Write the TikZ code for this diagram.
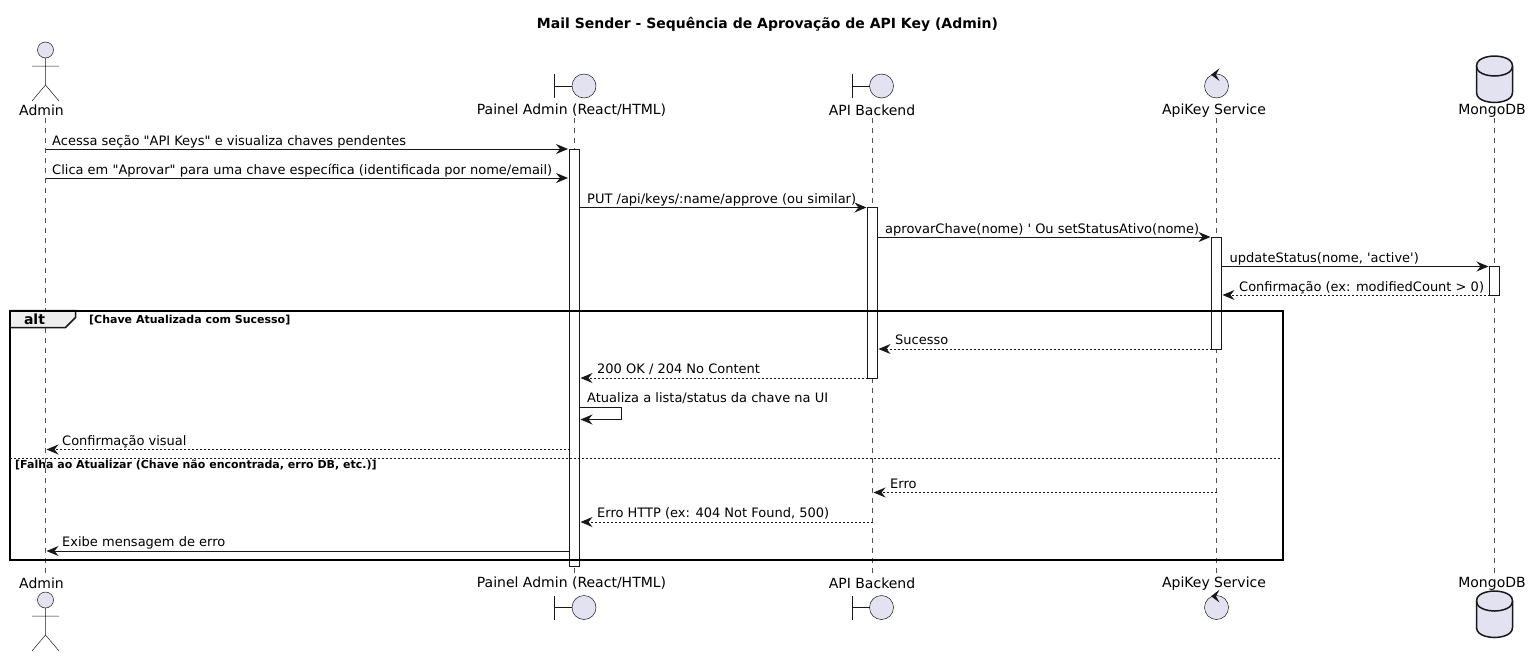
\documentclass[tikz,border=0pt]{standalone}
\usepackage{fontspec}
\setmainfont[Ligatures=TeXOff]{DejaVu Sans}
\usetikzlibrary{arrows.meta}
\definecolor{partfill}{HTML}{E2E2F0}
\definecolor{partline}{HTML}{181818}
\definecolor{tabfill}{HTML}{EEEEEE}
\tikzset{
  partlabel/.style={inner sep=0pt,font=\fontsize{14}{16}\selectfont,text=black},
  msglabel/.style={inner sep=0pt,anchor=base west,font=\fontsize{13}{15}\selectfont,text=black},
  guardlabel/.style={inner sep=0pt,anchor=base west,font=\fontsize{11}{13}\selectfont\bfseries,text=black},
  lifeline/.style={draw=partline!75,line width=.5pt,dash pattern=on 5pt off 5pt},
  actbox/.style={draw=partline,fill=white,line width=.9pt,rectangle,minimum width=10pt,inner sep=0pt},
  msg/.style={draw=partline,line width=1pt,-{Stealth[length=12pt,width=10pt,inset=4pt]}},
  reply/.style={msg,dash pattern=on 2pt off 2pt},
  icon/.style={draw=partline,line width=.5pt,fill=partfill},
  iconline/.style={draw=partline,line width=.5pt},
  dbline/.style={draw=partline,line width=1.5pt}
}
\begin{document}
\begin{tikzpicture}[x=1pt,y=-1pt]
  \useasboundingbox (0,0) rectangle (1531,656);
  \node (title) [inner sep=0pt,font=\fontsize{14}{16}\selectfont\bfseries] at (767.5,24.5) {Mail Sender - Sequência de Aprovação de API Key (Admin)};
  % lifelines
  \coordinate (adminT) at (45.5,118);
  \coordinate (adminB) at (45.5,575);
  \coordinate (painelT) at (574.5,118);
  \coordinate (painelB) at (574.5,575);
  \coordinate (apiT) at (872.5,118);
  \coordinate (apiB) at (872.5,575);
  \coordinate (keyT) at (1216.5,118);
  \coordinate (keyB) at (1216.5,575);
  \coordinate (mongoT) at (1494.5,118);
  \coordinate (mongoB) at (1494.5,575);
  \draw [lifeline] (adminT) -- (adminB);
  \draw [lifeline] (painelT) -- (painelB);
  \draw [lifeline] (apiT) -- (apiB);
  \draw [lifeline] (keyT) -- (keyB);
  \draw [lifeline] (mongoT) -- (mongoB);
  % labels of the participants
  \node (adminHead) [partlabel] at (41.5,110.5) {Admin};
  \node (painelHead) [partlabel] at (571.5,110.5) {Painel Admin (React/HTML)};
  \node (apiHead) [partlabel] at (872,110.5) {API Backend};
  \node (keyHead) [partlabel] at (1214,110.5) {ApiKey Service};
  \node (mongoHead) [partlabel] at (1492,110.5) {MongoDB};
  \node (adminFoot) [partlabel] at (41.5,583.5) {Admin};
  \node (painelFoot) [partlabel] at (571.5,583.5) {Painel Admin (React/HTML)};
  \node (apiFoot) [partlabel] at (872,583.5) {API Backend};
  \node (keyFoot) [partlabel] at (1214,583.5) {ApiKey Service};
  \node (mongoFoot) [partlabel] at (1492,583.5) {MongoDB};
  % actor, top and bottom
  \draw [icon] (45.5,50) circle (8);
  \draw [iconline] (45.5,58) -- (45.5,85) (32,66) -- (59,66) (32,101) -- (45.5,85) -- (59,101);
  \draw [icon] (45.5,600) circle (8);
  \draw [iconline] (45.5,608) -- (45.5,635) (32,616) -- (59,616) (32,651) -- (45.5,635) -- (59,651);
  % boundaries
  \draw [icon] (584,86) circle (12);
  \draw [iconline] (554.5,74) -- (554.5,98) (554.5,86) -- (572,86);
  \draw [icon] (584,607.5) circle (12);
  \draw [iconline] (554.5,595.5) -- (554.5,619.5) (554.5,607.5) -- (572,607.5);
  \draw [icon] (881.5,86) circle (12);
  \draw [iconline] (852,74) -- (852,98) (852,86) -- (869.5,86);
  \draw [icon] (881.5,607.5) circle (12);
  \draw [iconline] (852,595.5) -- (852,619.5) (852,607.5) -- (869.5,607.5);
  % controls
  \draw [icon] (1216.5,86) circle (12);
  \fill [partline] (1211,74.7) -- (1219.5,68.2) -- (1216,74.7) -- (1219.5,81) -- cycle;
  \draw [icon] (1216.5,607.5) circle (12);
  \fill [partline] (1211,596.2) -- (1219.5,589.7) -- (1216,596.2) -- (1219.5,602.5) -- cycle;
  % databases
  \draw [dbline,fill=partfill] (1476.5,66) .. controls (1476.5,56) and (1494.5,56) .. (1494.5,56) .. controls (1494.5,56) and (1512.5,56) .. (1512.5,66) -- (1512.5,92.5) .. controls (1512.5,102.5) and (1494.5,102.5) .. (1494.5,102.5) .. controls (1494.5,102.5) and (1476.5,102.5) .. (1476.5,92.5) -- cycle;
  \draw [dbline] (1476.5,66) .. controls (1476.5,76) and (1494.5,76) .. (1494.5,76) .. controls (1494.5,76) and (1512.5,76) .. (1512.5,66);
  \draw [dbline,fill=partfill] (1476.5,601) .. controls (1476.5,591) and (1494.5,591) .. (1494.5,591) .. controls (1494.5,591) and (1512.5,591) .. (1512.5,601) -- (1512.5,627.5) .. controls (1512.5,637.5) and (1494.5,637.5) .. (1494.5,637.5) .. controls (1494.5,637.5) and (1476.5,637.5) .. (1476.5,627.5) -- cycle;
  \draw [dbline] (1476.5,601) .. controls (1476.5,611) and (1494.5,611) .. (1494.5,611) .. controls (1494.5,611) and (1512.5,611) .. (1512.5,601);
  % activations
  \node (actPainel) [actbox,minimum height=417.5pt] at (574.5,357.75) {};
  \node (actApi) [actbox,minimum height=171pt] at (872.5,292.5) {};
  \node (actKey) [actbox,minimum height=112pt] at (1216.5,293) {};
  \node (actMongo) [actbox,minimum height=29pt] at (1494.5,280.5) {};
  % alt frame
  \coordinate (frameNW) at (10,310.5);
  \coordinate (frameSE) at (1282.5,559.5);
  \coordinate (dividerW) at (10,458.5);
  \coordinate (dividerE) at (1282.5,458.5);
  \draw [draw=partline,fill=tabfill,line width=1.5pt] (10,310.5) -- (75.5,310.5) -- (75.5,317.5) -- (65.5,327.5) -- (10,327.5) -- cycle;
  \draw [black,line width=2pt] (frameNW) rectangle (frameSE);
  \draw [partline,line width=1pt,dash pattern=on 2pt off 2pt] (dividerW) -- (dividerE);
  \node (altTag) [inner sep=0pt,font=\fontsize{14}{16}\selectfont\bfseries] at (34.5,319) {alt};
  \node (guardOk) [guardlabel] at (89,323) {[Chave Atualizada com Sucesso]};
  \node (guardFail) [guardlabel] at (15,468) {[Falha ao Atualizar (Chave não encontrada, erro DB, etc.)]};
  % messages
  \coordinate (m1s) at (45.5,149);
  \coordinate (m1e) at (568,149);
  \coordinate (m2s) at (45.5,178);
  \coordinate (m2e) at (568,178);
  \coordinate (m3s) at (579.5,207.5);
  \coordinate (m3e) at (866.5,207.5);
  \coordinate (m4s) at (877.5,237);
  \coordinate (m4e) at (1210.5,237);
  \coordinate (m5s) at (1221.5,266.5);
  \coordinate (m5e) at (1488.5,266.5);
  \coordinate (m6s) at (1489.5,295);
  \coordinate (m6e) at (1222.5,295);
  \coordinate (m7s) at (1211.5,349);
  \coordinate (m7e) at (878.5,349);
  \coordinate (m8s) at (867.5,378);
  \coordinate (m8e) at (580.5,378);
  \coordinate (m9s) at (579.5,407);
  \coordinate (m9a) at (621.5,407);
  \coordinate (m9b) at (621.5,419.5);
  \coordinate (m9e) at (580.5,419.5);
  \coordinate (m10s) at (569.5,449.5);
  \coordinate (m10e) at (46.5,449.5);
  \coordinate (m11s) at (1216.5,492.5);
  \coordinate (m11e) at (873.5,492.5);
  \coordinate (m12s) at (872.5,522);
  \coordinate (m12e) at (580.5,522);
  \coordinate (m13s) at (569.5,551);
  \coordinate (m13e) at (46.5,551);
  \draw [msg] (m1s) -- (m1e);
  \draw [msg] (m2s) -- (m2e);
  \draw [msg] (m3s) -- (m3e);
  \draw [msg] (m4s) -- (m4e);
  \draw [msg] (m5s) -- (m5e);
  \draw [reply] (m6s) -- (m6e);
  \draw [reply] (m7s) -- (m7e);
  \draw [reply] (m8s) -- (m8e);
  \draw [msg] (m9s) -- (m9a) -- (m9b) -- (m9e);
  \draw [reply] (m10s) -- (m10e);
  \draw [reply] (m11s) -- (m11e);
  \draw [reply] (m12s) -- (m12e);
  \draw [msg] (m13s) -- (m13e);
  \node (l1) [msglabel] at (52,145.5) {Acessa seção "API Keys" e visualiza chaves pendentes};
  \node (l2) [msglabel] at (52,174.5) {Clica em "Aprovar" para uma chave específica (identificada por nome/email)};
  \node (l3) [msglabel] at (587,203.5) {PUT /api/keys/:name/approve (ou similar)};
  \node (l4) [msglabel] at (885,233.5) {aprovarChave(nome) ' Ou setStatusAtivo(nome)};
  \node (l5) [msglabel] at (1229.5,262.5) {updateStatus(nome, 'active')};
  \node (l6) [msglabel] at (1239,291.5) {Confirmação (ex: modifiedCount > 0)};
  \node (l7) [msglabel] at (895,344.5) {Sucesso};
  \node (l8) [msglabel] at (597,373.5) {200 OK / 204 No Content};
  \node (l9) [msglabel] at (587,402.5) {Atualiza a lista/status da chave na UI};
  \node (l10) [msglabel] at (62,445.5) {Confirmação visual};
  \node (l11) [msglabel] at (890,488.5) {Erro};
  \node (l12) [msglabel] at (597,517.5) {Erro HTTP (ex: 404 Not Found, 500)};
  \node (l13) [msglabel] at (62,546.5) {Exibe mensagem de erro};
\end{tikzpicture}
\end{document}
